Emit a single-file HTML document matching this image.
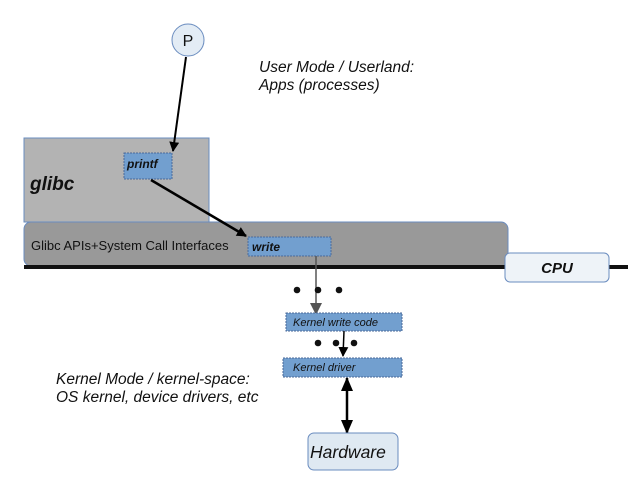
<!DOCTYPE html>
<html><head><meta charset="utf-8"><style>
html,body{margin:0;padding:0;background:#fff;}
svg{display:block;font-family:"Liberation Sans",sans-serif;}
</style></head><body>
<svg width="634" height="482" viewBox="0 0 634 482" xmlns="http://www.w3.org/2000/svg">
<defs>
<marker id="ah" markerWidth="10" markerHeight="10" refX="9" refY="5" orient="auto" markerUnits="userSpaceOnUse"><path d="M0,0 L10,5 L0,10 z" fill="#000"/></marker>
<marker id="ahg" markerWidth="10" markerHeight="12" refX="9" refY="6" orient="auto" markerUnits="userSpaceOnUse"><path d="M0,0 L12,6 L0,12 z" fill="#555"/></marker>
<marker id="ahb" markerWidth="14" markerHeight="12" refX="13" refY="6" orient="auto-start-reverse" markerUnits="userSpaceOnUse"><path d="M0,0 L14,6 L0,12 z" fill="#000"/></marker>
</defs>
<rect x="24" y="138" width="185" height="84" fill="#b3b3b3" stroke="#6a8cbf" stroke-width="1"/>
<text x="30" y="190" font-size="19" font-weight="bold" font-style="italic" fill="#111">glibc</text>
<rect x="24" y="222" width="484" height="44" rx="7" fill="#999" stroke="#6a8cbf" stroke-width="1"/>
<text x="31" y="250" font-size="13" fill="#111">Glibc APIs+System Call Interfaces</text>
<rect x="24" y="265" width="604" height="4" fill="#111"/>
<rect x="505" y="253" width="104" height="29" rx="5" fill="#eef3f8" stroke="#6a8cbf"/>
<text x="557" y="273" font-size="15" font-weight="bold" font-style="italic" text-anchor="middle" fill="#111">CPU</text>
<rect x="124" y="153" width="48" height="26" fill="#729fcf" stroke="#4a6a9a" stroke-dasharray="2,1"/>
<text x="127" y="168" font-size="12" font-weight="bold" font-style="italic" fill="#111">printf</text>
<rect x="248" y="237" width="83" height="19" fill="#729fcf" stroke="#4a6a9a" stroke-dasharray="2,1"/>
<text x="252" y="251" font-size="12" font-weight="bold" font-style="italic" fill="#111">write</text>
<circle cx="188" cy="40" r="16" fill="#e3ecf5" stroke="#6a8cbf"/>
<text x="188" y="46" font-size="16" text-anchor="middle" fill="#111">P</text>
<line x1="186" y1="57" x2="173" y2="151" stroke="#000" stroke-width="2" marker-end="url(#ah)"/>
<line x1="151" y1="180" x2="246" y2="236" stroke="#000" stroke-width="2.5" marker-end="url(#ah)"/>
<text x="259" y="72" font-size="15.5" font-style="italic" fill="#111">User Mode / Userland:</text>
<text x="259" y="90" font-size="15.5" font-style="italic" fill="#111">Apps (processes)</text>
<line x1="316" y1="256" x2="316" y2="312" stroke="#555" stroke-width="1.5" marker-end="url(#ahg)"/>
<circle cx="297" cy="290" r="3.3" fill="#111"/><circle cx="318" cy="290" r="3.3" fill="#111"/><circle cx="339" cy="290" r="3.3" fill="#111"/>
<rect x="286" y="313" width="116" height="18" fill="#729fcf" stroke="#4a6a9a" stroke-dasharray="2,1"/>
<text x="293" y="326" font-size="11" font-style="italic" fill="#111">Kernel write code</text>
<circle cx="318" cy="343" r="3.3" fill="#111"/><circle cx="336" cy="343" r="3.3" fill="#111"/><circle cx="354" cy="343" r="3.3" fill="#111"/>
<line x1="344" y1="331" x2="343" y2="356" stroke="#000" stroke-width="1.5" marker-end="url(#ah)"/>
<rect x="283" y="358" width="119" height="19" fill="#729fcf" stroke="#4a6a9a" stroke-dasharray="2,1"/>
<text x="293" y="371" font-size="11" font-style="italic" fill="#111">Kernel driver</text>
<line x1="347" y1="378" x2="347" y2="433" stroke="#000" stroke-width="2.5" marker-start="url(#ahb)" marker-end="url(#ahb)"/>
<rect x="308" y="433" width="90" height="37" rx="6" fill="#dfe9f2" stroke="#6a8cbf"/>
<text x="310" y="458" font-size="17.5" font-style="italic" fill="#111">Hardware</text>
<text x="56" y="384" font-size="15.5" font-style="italic" fill="#111">Kernel Mode / kernel-space:</text>
<text x="56" y="402" font-size="15.5" font-style="italic" fill="#111">OS kernel, device drivers, etc</text>
</svg>
</body></html>
